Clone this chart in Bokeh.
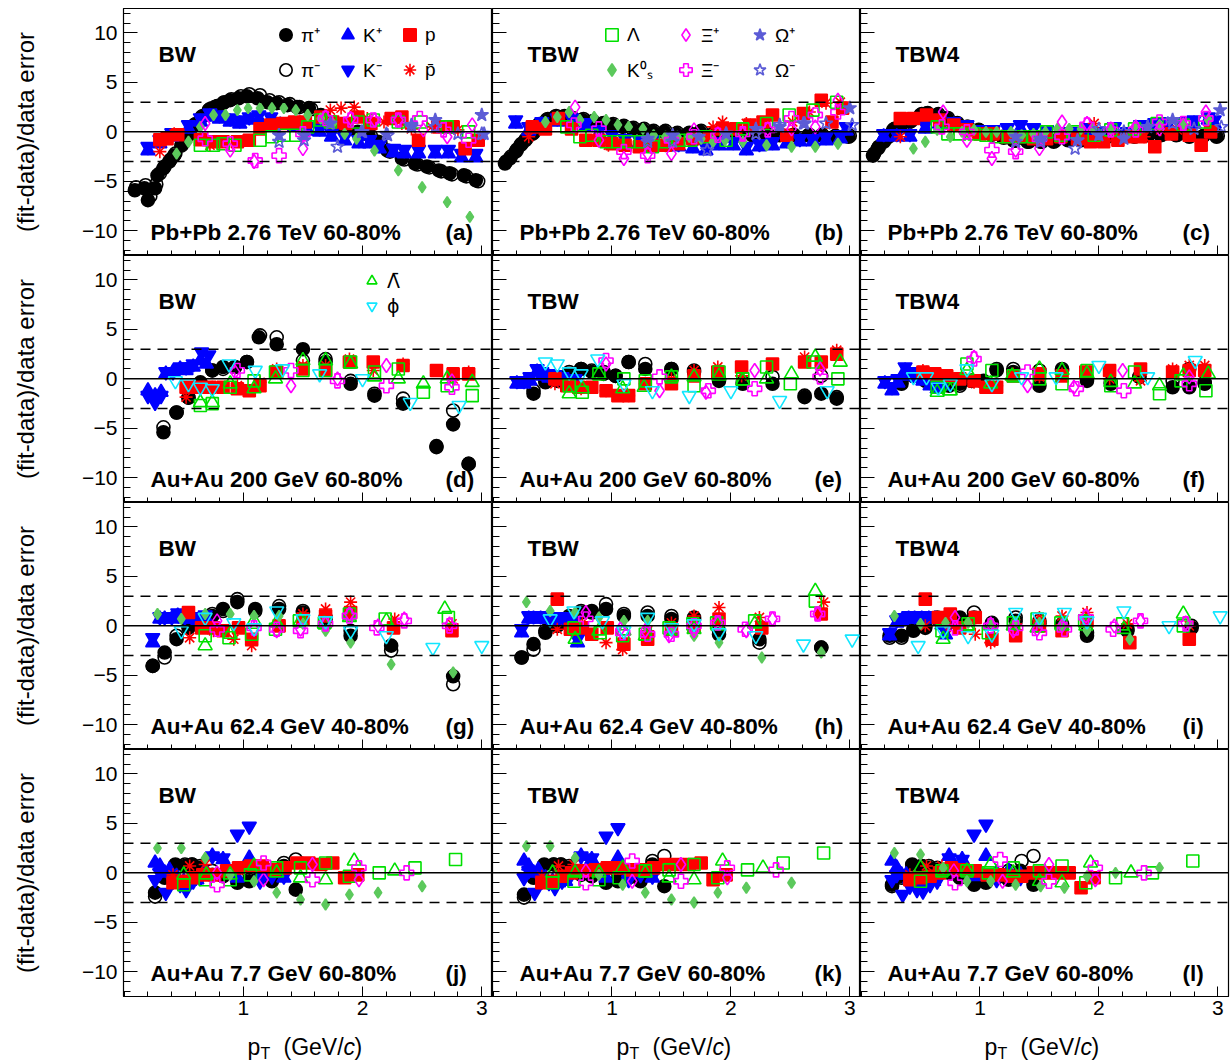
from bokeh.plotting import figure
from bokeh.models import (Range1d, FixedTicker, Span, Label, Legend, LegendItem,
                          ColumnDataSource, LinearAxis)
from bokeh.layouts import column, row
from bokeh.embed import file_html
from bokeh.resources import INLINE

# ---------------- text / ticks ----------------
MODELS = ["BW", "TBW", "TBW4"]
SYSTEMS = ["Pb+Pb 2.76 TeV 60-80%", "Au+Au 200 GeV 60-80%",
           "Au+Au 62.4 GeV 40-80%", "Au+Au 7.7 GeV 60-80%"]
TAGS = ["(a)", "(b)", "(c)", "(d)", "(e)", "(f)", "(g)", "(h)", "(i)", "(j)", "(k)", "(l)"]
Y_TITLE = "(fit-data)/data error"
X_TITLE_PARTS = ["p", "T", "(GeV/", "c", ")"]
X_TICKS = [1, 2, 3]
X_TICK_LABELS = ["1", "2", "3"]
X_MINOR = [0.0, 0.2, 0.4, 0.6, 0.8, 1.0, 1.2, 1.4, 1.6, 1.8, 2.0, 2.2, 2.4, 2.6, 2.8, 3.0]
Y_TICKS = [-10, -5, 0, 5, 10]
Y_TICK_LABELS = ["\u221210", "\u22125", "0", "5", "10"]
Y_MINOR = list(range(-12, 13))
DASH_LEVELS = [-3, 3]

# ---------------- data: (pT, (fit-data)/error) ----------------
# (a) Pb+Pb 2.76 TeV, BW
A_PIP = [(0.09,-5.9),(0.17,-5.7),(0.20,-6.9),(0.26,-5.7),(0.28,-4.4),(0.33,-3.7),(0.38,-3.0),(0.42,-2.4),(0.48,-1.4),(0.54,-0.3),(0.59,0.7),(0.65,1.5),(0.71,2.2),(0.76,2.5),(0.83,2.9),(0.89,3.2),(0.96,3.4),(1.03,3.6),(1.12,3.4),(1.20,3.0),(1.28,2.9),(1.37,2.7),(1.45,2.5),(1.55,2.4),(1.65,1.7),(1.73,1.0),(1.85,0.3),(1.96,0.0),(2.05,-0.3),(2.13,-1.0),(2.21,-1.9),(2.33,-2.7),(2.44,-3.2),(2.54,-3.5),(2.64,-3.9),(2.73,-4.2),(2.85,-4.4),(2.95,-4.9)]
A_PIM = [(0.10,-5.6),(0.18,-5.4),(0.22,-6.5),(0.27,-5.3),(0.30,-4.2),(0.34,-3.5),(0.39,-2.8),(0.43,-2.2),(0.49,-1.2),(0.55,-0.2),(0.60,0.8),(0.66,1.6),(0.72,2.3),(0.78,2.6),(0.84,3.0),(0.90,3.3),(0.98,3.6),(1.05,3.8),(1.14,3.7),(1.22,3.2),(1.30,3.0),(1.39,2.8),(1.47,2.5),(1.57,2.3),(1.67,1.6),(1.75,0.9),(1.87,0.2),(1.98,-0.1),(2.07,-0.4),(2.15,-1.1),(2.23,-2.0),(2.35,-2.8),(2.46,-3.3),(2.56,-3.6),(2.66,-4.0),(2.75,-4.3),(2.87,-4.5),(2.97,-5.0)]
A_KP = [(0.20,-1.9),(0.30,-1.2),(0.40,-0.5),(0.54,0.3),(0.64,1.0),(0.72,1.5),(0.80,1.3),(0.89,1.0),(0.97,0.8),(1.05,1.2),(1.13,1.3),(1.23,1.2),(1.31,0.7),(1.43,0.5),(1.54,0.1),(1.64,0.0),(1.74,-0.5),(1.85,-0.9),(1.97,-1.2),(2.06,-1.2),(2.14,-1.7),(2.26,-2.1),(2.35,-2.2),(2.47,-2.2),(2.61,-2.2),(2.72,-2.2),(2.83,-2.6),(2.95,-2.6)]
A_KM = [(0.20,-1.5),(0.30,-0.8),(0.40,-0.1),(0.54,0.7),(0.64,1.4),(0.72,1.9),(0.80,1.7),(0.89,1.4),(0.97,1.2),(1.05,1.5),(1.13,1.7),(1.23,1.5),(1.31,1.0),(1.43,0.9),(1.54,0.5),(1.64,0.4),(1.74,-0.1),(1.85,-0.5),(1.97,-0.8),(2.06,-0.8),(2.14,-1.3),(2.26,-1.7),(2.35,-1.8),(2.47,-1.8),(2.61,-1.8),(2.72,-1.8),(2.83,-2.2),(2.95,-2.2)]
A_P = [(0.30,-0.8),(0.36,-0.7),(0.45,-0.3),(0.64,-0.8),(0.75,-1.0),(0.83,-1.0),(0.95,-1.0),(1.05,-0.85),(1.14,0.3),(1.23,0.7),(1.33,0.85),(1.43,1.0),(1.52,1.0),(1.65,1.5),(1.75,1.0),(1.86,0.85),(1.96,1.5),(2.07,0.85),(2.24,1.35),(2.33,1.5),(2.47,-0.85),(2.64,0.5),(2.76,0.5),(2.86,-1.7),(2.97,-0.85)]
A_PBAR = [(0.30,-2.0),(0.42,-0.2),(0.72,-1.35),(1.73,2.2),(1.82,2.4),(1.93,2.5),(2.04,1.35),(2.18,1.0),(2.33,0.85),(2.41,0.3),(2.58,0.5),(2.80,0.2)]
A_LAM = [(0.64,-1.35),(0.75,-1.35),(0.83,-1.2),(0.93,-1.35),(1.14,-0.85),(1.24,-0.5),(1.34,-0.35),(1.44,-0.35),(1.54,0.5),(1.65,1.2),(1.73,1.0),(1.96,1.0),(2.09,1.2),(2.30,1.0),(2.49,1.0),(2.71,0.5),(2.89,0.0)]
A_K0S = [(0.44,-2.2),(0.54,-1.0),(0.64,0.5),(0.75,1.7),(0.85,1.7),(0.95,2.2),(1.04,2.4),(1.14,2.4),(1.24,2.4),(1.34,2.4),(1.44,2.2),(1.54,1.7),(1.65,1.35),(1.75,0.85),(1.85,-0.2),(1.95,-0.7),(2.10,-1.9),(2.30,-3.9),(2.50,-5.6),(2.71,-7.1),(2.90,-8.6)]
A_XIP = [(0.68,0.85),(0.89,-1.85),(1.09,-3.0),(1.50,-1.7),(1.69,1.5),(1.90,1.35),(2.10,1.2),(2.30,1.2),(2.51,0.2),(2.71,-0.5),(2.92,0.7)]
A_XIM = [(0.68,-0.7),(0.89,-1.2),(1.10,-2.9),(1.30,-2.4),(1.50,-0.2),(1.69,1.35),(1.90,1.2),(2.09,1.2),(2.30,1.2),(2.48,1.35),(2.68,0.2),(2.89,-0.85)]
A_OMP = [(1.30,-0.35),(1.51,-0.35),(1.73,0.85),(1.99,0.0),(2.20,-0.2),(2.41,0.7),(2.61,1.2),(3.00,1.7),(3.02,-0.2)]
A_OMM = [(1.30,-1.0),(1.51,-0.85),(1.79,-1.5),(2.00,0.0),(2.21,-0.35),(2.41,0.5),(2.61,0.5),(2.80,-0.2),(3.00,-0.2)]

# (b) Pb+Pb 2.76 TeV, TBW
B_PIP = [(0.10,-3.2),(0.14,-2.7),(0.19,-2.0),(0.23,-1.35),(0.27,-0.85),(0.33,-0.2),(0.38,0.7),(0.45,1.2),(0.52,1.5),(0.59,1.5),(0.66,1.35),(0.75,1.2),(0.83,1.0),(0.92,0.85),(1.00,0.7),(1.09,0.5),(1.17,0.3),(1.26,0.2),(1.34,0.0),(1.44,0.0),(1.54,-0.2),(1.64,-0.2),(1.74,0.0),(1.85,-0.2),(1.96,-0.2),(2.07,-0.35),(2.18,-0.35),(2.30,-0.3),(2.41,-0.35),(2.52,-0.35),(2.65,-0.35),(2.76,-0.35),(2.87,-0.5),(2.99,-0.5)]
B_PIM = [(0.11,-3.0),(0.15,-2.5),(0.20,-1.8),(0.24,-1.2),(0.28,-0.7),(0.34,-0.1),(0.39,0.8),(0.46,1.3),(0.53,1.6),(0.60,1.6),(0.67,1.4),(0.76,1.3),(0.84,1.1),(0.93,0.9),(1.01,0.8),(1.10,0.6),(1.18,0.4),(1.27,0.3),(1.35,0.1),(1.45,0.1),(1.55,-0.1),(1.65,-0.1),(1.75,0.1),(1.86,-0.1),(1.97,-0.1),(2.08,-0.3),(2.19,-0.3),(2.31,-0.2),(2.42,-0.3),(2.53,-0.3),(2.66,-0.3),(2.77,-0.3),(2.88,-0.4),(3.00,-0.4)]
B_KP = [(0.19,0.8),(0.30,0.1),(0.41,0.7),(0.54,1.0),(0.66,1.0),(0.78,0.5),(0.89,-0.2),(1.00,-0.7),(1.11,-1.0),(1.23,-1.2),(1.34,-1.2),(1.45,-1.5),(1.56,-1.5),(1.68,-1.7),(1.79,-1.9),(1.90,-1.4),(2.02,-1.4),(2.13,-1.9),(2.24,-1.5),(2.35,-1.4),(2.47,-1.2),(2.58,-1.0),(2.69,-1.0),(2.80,-0.9),(2.92,-0.7),(2.97,0.1)]
B_KM = [(0.19,1.2),(0.30,0.5),(0.41,1.0),(0.54,1.4),(0.66,1.4),(0.78,0.9),(0.89,0.2),(1.00,-0.3),(1.11,-0.7),(1.23,-0.8),(1.34,-0.8),(1.45,-1.2),(1.56,-1.2),(1.68,-1.3),(1.79,-1.5),(1.90,-1.0),(2.02,-1.0),(2.13,-1.5),(2.24,-1.2),(2.35,-1.0),(2.47,-0.8),(2.58,-0.7),(2.69,-0.7),(2.80,-0.5),(2.92,-0.3),(2.97,0.5)]
B_P = [(0.33,0.5),(0.44,0.3),(0.55,1.35),(0.66,0.3),(0.78,-0.85),(0.89,-0.85),(1.00,-1.2),(1.11,-1.35),(1.23,-1.5),(1.34,-1.35),(1.45,-1.35),(1.56,-1.2),(1.68,-0.7),(1.82,-0.5),(1.93,0.3),(2.04,0.3),(2.16,0.7),(2.27,1.0),(2.35,1.7),(2.47,-0.35),(2.61,1.85),(2.76,3.2),(2.85,1.0),(2.94,2.4)]
B_PBAR = [(0.30,-0.5),(0.97,-1.35),(1.85,0.5),(1.93,1.0),(2.13,0.85),(2.52,1.0),(2.66,2.0),(2.80,2.9),(2.92,3.0)]
B_LAM = [(0.62,0.5),(0.73,-0.5),(0.83,-0.35),(0.95,-1.0),(1.05,-1.0),(1.14,-1.0),(1.24,-1.0),(1.34,-1.5),(1.45,-1.0),(1.56,-0.85),(1.66,-0.85),(1.79,-0.5),(1.96,-0.85),(2.10,0.3),(2.30,0.85),(2.49,1.7),(2.69,2.2),(2.89,3.0)]
B_K0S = [(0.44,1.0),(0.54,1.5),(0.64,2.0),(0.73,1.2),(0.85,1.5),(0.95,1.2),(1.05,0.7),(1.14,0.5),(1.26,0.3),(1.35,-0.35),(1.45,-0.5),(1.55,-0.5),(1.65,-0.5),(1.75,-0.7),(1.85,-1.0),(1.95,-0.85),(2.10,-1.0),(2.30,-1.35),(2.51,-1.5),(2.71,-1.5),(2.90,-1.2)]
B_XIP = [(0.69,2.5),(0.89,-0.85),(1.10,-2.7),(1.30,-2.2),(1.50,-2.2),(1.69,0.2),(1.89,-0.2),(2.10,-0.2),(2.31,0.3),(2.51,0.3),(2.71,0.5),(2.90,3.2)]
B_XIM = [(0.68,0.7),(0.89,0.3),(1.10,-2.0),(1.30,-2.4),(1.50,-0.85),(1.69,-0.5),(1.89,-0.35),(2.10,-0.2),(2.31,0.2),(2.51,1.35),(2.71,1.7),(2.90,2.0)]
B_OMP = [(1.30,-0.7),(1.51,-0.35),(1.73,-0.5),(1.96,-0.2),(2.21,0.3),(2.41,0.5),(2.62,0.85),(3.00,2.4)]
B_OMM = [(1.30,-1.0),(1.51,-1.0),(1.80,-1.85),(1.96,-0.2),(2.21,-0.2),(2.41,0.7),(2.61,0.85),(2.80,0.85),(3.02,0.7)]

# (c) Pb+Pb 2.76 TeV, TBW4
C_PIP = [(0.10,-2.4),(0.14,-1.7),(0.19,-1.0),(0.23,-0.5),(0.27,0.2),(0.33,0.7),(0.41,1.0),(0.50,1.7),(0.55,1.85),(0.64,1.7),(0.72,1.35),(0.80,0.85),(0.89,0.5),(0.99,0.2),(1.09,-0.2),(1.19,-0.5),(1.28,-0.85),(1.40,-1.0),(1.51,-1.0),(1.62,-1.0),(1.74,-0.85),(1.85,-0.85),(1.96,-0.7),(2.07,-0.5),(2.18,-0.5),(2.30,-0.5),(2.41,-0.35),(2.52,-0.35),(2.65,-0.35),(2.76,-0.5),(2.87,-0.5),(2.99,-0.5)]
C_PIM = [(0.11,-2.2),(0.15,-1.5),(0.20,-0.8),(0.24,-0.3),(0.28,0.3),(0.34,0.8),(0.42,1.1),(0.51,1.8),(0.56,1.9),(0.65,1.8),(0.73,1.4),(0.81,0.9),(0.90,0.5),(1.00,0.1),(1.10,-0.3),(1.20,-0.6),(1.29,-0.9),(1.41,-1.0),(1.52,-1.0),(1.63,-0.9),(1.75,-0.8),(1.86,-0.8),(1.97,-0.6),(2.08,-0.4),(2.19,-0.4),(2.31,-0.4),(2.42,-0.3),(2.53,-0.3),(2.66,-0.3),(2.77,-0.4),(2.88,-0.4),(3.00,-0.4)]
C_KP = [(0.19,-0.5),(0.30,-0.5),(0.41,-0.5),(0.54,0.3),(0.66,0.8),(0.78,0.7),(0.89,0.3),(1.00,-0.2),(1.11,-0.2),(1.23,0.0),(1.34,0.3),(1.45,0.0),(1.56,-0.2),(1.68,-0.4),(1.79,-0.4),(1.90,0.0),(2.02,-0.4),(2.13,0.1),(2.24,-0.4),(2.35,0.3),(2.47,0.5),(2.58,0.7),(2.69,0.7),(2.80,0.8),(2.92,1.2),(2.97,0.8)]
C_KM = [(0.19,-0.2),(0.30,-0.2),(0.41,-0.2),(0.54,0.7),(0.66,1.2),(0.78,1.0),(0.89,0.7),(1.00,0.2),(1.11,0.2),(1.23,0.4),(1.34,0.7),(1.45,0.4),(1.56,0.2),(1.68,0.0),(1.79,0.0),(1.90,0.4),(2.02,0.0),(2.13,0.5),(2.24,0.0),(2.35,0.7),(2.47,0.9),(2.58,1.0),(2.69,1.0),(2.80,1.2),(2.92,1.5),(2.97,1.2)]
C_P = [(0.33,1.35),(0.44,1.35),(0.55,1.7),(0.66,1.2),(0.78,0.7),(0.89,0.2),(1.00,-0.2),(1.11,-0.2),(1.23,-0.5),(1.34,-0.5),(1.45,-0.7),(1.56,-0.7),(1.68,-0.5),(1.82,-0.7),(1.93,-1.0),(2.04,-1.0),(2.16,-0.85),(2.27,-0.5),(2.35,-0.5),(2.47,-1.5),(2.61,-0.2),(2.76,-0.35),(2.86,-1.35),(2.94,0.0)]
C_PBAR = [(0.33,-0.5),(0.97,-0.2),(1.85,-0.35),(1.96,0.85),(2.13,-0.5),(2.38,-0.5),(2.52,0.2),(2.66,0.2)]
C_LAM = [(0.64,0.5),(0.73,-0.2),(0.83,-0.2),(0.95,-0.2),(1.05,-0.35),(1.14,-0.5),(1.24,-0.5),(1.34,-0.5),(1.45,-0.5),(1.56,0.0),(1.68,-0.35),(1.79,0.0),(1.96,-0.35),(2.10,0.2),(2.30,0.3),(2.49,0.85),(2.71,0.7),(2.89,1.0)]
C_K0S = [(0.44,-1.7),(0.54,-1.0),(0.64,0.2),(0.75,-0.5),(0.85,0.0),(0.95,0.2),(1.05,0.0),(1.14,0.0),(1.26,0.0),(1.35,-0.35),(1.45,-0.2),(1.55,0.0),(1.65,0.3),(1.75,0.3),(1.85,0.3),(1.95,0.3),(2.10,0.2),(2.30,0.5),(2.51,0.7),(2.71,0.7),(2.92,1.2)]
C_XIP = [(0.69,2.0),(0.89,-0.85),(1.10,-2.7),(1.30,-1.85),(1.50,-1.7),(1.69,1.0),(1.90,0.85),(2.10,0.3),(2.31,0.5),(2.51,0.3),(2.71,0.7),(2.90,2.0)]
C_XIM = [(0.68,0.5),(0.89,0.0),(1.10,-1.85),(1.30,-2.0),(1.50,-0.7),(1.69,-0.5),(1.90,0.7),(2.10,0.2),(2.31,0.2),(2.51,1.0),(2.71,0.85),(2.90,1.35)]
C_OMP = [(1.30,-0.5),(1.51,-0.7),(1.82,-0.85),(2.00,-0.35),(2.21,-0.7),(2.41,0.5),(2.62,1.2),(3.02,2.2)]
C_OMM = [(1.30,-1.0),(1.51,-1.0),(1.80,-1.7),(2.00,0.3),(2.21,0.0),(2.41,0.5),(2.62,0.85),(2.80,0.3),(3.03,0.5)]

# (d) Au+Au 200 GeV, BW
D_PIP = [(0.33,-5.4),(0.44,-3.4),(0.54,-1.9),(0.64,-0.35),(0.74,0.85),(0.83,1.2),(0.93,1.2),(1.03,1.7),(1.13,4.2),(1.28,3.5),(1.50,3.0),(1.69,1.7),(1.90,-0.5),(2.10,-1.7),(2.34,-2.5),(2.62,-6.9),(2.76,-4.6),(2.89,-8.6)]
D_PIM = [(0.33,-4.9),(0.44,-3.4),(0.54,-1.9),(0.64,-0.5),(0.74,0.85),(0.83,1.0),(0.93,1.2),(1.03,1.7),(1.14,4.4),(1.28,4.2),(1.50,1.85),(1.69,2.0),(1.90,-0.2),(2.10,-1.5),(2.34,-2.0),(2.62,-6.8),(2.76,-3.2),(2.89,-8.6)]
D_KP = [(0.20,-1.2),(0.26,-1.7),(0.31,-1.35),(0.35,0.5),(0.41,0.7),(0.47,1.0),(0.52,0.85),(0.58,1.2),(0.64,1.85),(0.69,1.5)]
D_KM = [(0.20,-1.7),(0.26,-2.4),(0.31,-1.7),(0.35,0.7),(0.41,0.7),(0.47,1.2),(0.52,1.2),(0.58,1.5),(0.65,2.7),(0.71,2.4)]
D_P = [(0.52,-0.85),(0.62,-0.85),(0.72,-0.85),(0.83,-0.85),(0.95,-1.0),(1.05,-1.2),(1.14,-0.7),(1.28,0.7),(1.50,1.0),(1.69,0.85),(1.89,1.7),(2.09,1.7),(2.34,1.35),(2.62,0.85),(2.76,0.5),(2.89,0.5)]
D_PBAR = [(0.52,-1.85),(0.74,-0.85),(0.95,-0.7),(1.14,-0.35),(1.28,1.0),(1.50,1.35),(1.69,1.35),(1.89,2.0),(2.09,0.85),(2.34,1.5),(2.62,0.85),(2.76,0.0),(2.89,0.7)]
D_LAM = [(0.64,-2.7),(0.74,-2.5),(0.89,-0.85),(1.09,-0.2),(1.27,0.7),(1.50,0.85),(1.69,0.85),(1.90,1.7),(2.10,0.7),(2.30,1.0),(2.51,-1.35),(2.71,-0.7),(2.92,-1.7)]
D_LAMB = [(0.64,-2.4),(0.74,-2.4),(0.89,-0.5),(1.09,-1.0),(1.27,0.0),(1.50,1.85),(1.69,1.85),(1.90,1.5),(2.10,0.2),(2.30,0.0),(2.51,-0.5),(2.71,0.0),(2.92,-0.35)]
D_XIP = [(0.93,0.7),(1.40,-0.7),(1.79,0.0),(2.20,1.35),(2.75,-0.2)]
D_XIM = [(0.95,0.85),(1.40,0.85),(1.79,-0.2),(2.20,-0.7),(2.75,-0.85)]
D_PHI = [(0.43,-0.2),(0.54,-0.5),(0.64,-0.85),(0.74,-1.0),(0.88,1.5),(1.10,0.85),(1.33,1.0),(1.64,0.5),(2.00,0.0),(2.40,-2.4),(2.81,-2.7)]

# (e) Au+Au 200 GeV, TBW
E_PIP = [(0.34,-1.5),(0.44,-0.35),(0.54,-0.2),(0.64,0.5),(0.74,1.0),(0.83,0.7),(0.93,0.5),(1.03,0.3),(1.14,1.7),(1.28,1.0),(1.50,1.0),(1.69,0.7),(1.90,-0.2),(2.10,-0.5),(2.35,-0.5),(2.62,-1.85),(2.76,-1.5),(2.89,-2.0)]
E_PIM = [(0.34,-1.2),(0.44,-0.2),(0.54,0.0),(0.64,0.7),(0.74,1.0),(0.83,0.85),(0.93,0.7),(1.03,0.3),(1.14,1.7),(1.28,1.5),(1.50,1.0),(1.69,0.85),(1.90,0.0),(2.10,-0.35),(2.35,0.2),(2.62,-1.7),(2.76,0.3),(2.89,-1.85)]
E_KP = [(0.20,-0.5),(0.26,-0.5),(0.31,-0.2),(0.37,0.7),(0.41,0.3),(0.47,0.1),(0.52,0.0),(0.58,-0.2),(0.64,-0.4),(0.69,-0.4)]
E_KM = [(0.20,-0.2),(0.26,-0.2),(0.31,0.2),(0.37,1.0),(0.41,0.7),(0.47,0.5),(0.52,0.4),(0.58,0.2),(0.64,0.0),(0.69,0.0)]
E_P = [(0.52,0.0),(0.62,-0.7),(0.72,-0.85),(0.83,-0.85),(0.95,-1.2),(1.05,-1.7),(1.14,-1.7),(1.28,-0.5),(1.50,-0.5),(1.69,0.3),(1.89,0.7),(2.09,1.2),(2.35,1.5),(2.62,1.7),(2.76,1.7),(2.89,2.5)]
E_PBAR = [(0.52,-0.5),(0.74,-1.0),(0.95,-1.2),(1.14,-1.7),(1.28,-0.5),(1.50,0.0),(1.69,0.85),(1.89,1.2),(2.09,0.3),(2.35,1.35),(2.62,2.2),(2.76,1.35),(2.89,2.9)]
E_LAM = [(0.64,-0.7),(0.75,-1.35),(0.89,0.5),(1.10,0.0),(1.28,-0.2),(1.50,0.2),(1.69,-0.7),(1.90,0.7),(2.10,0.0),(2.30,1.2),(2.50,-0.5),(2.69,1.7),(2.90,0.0)]
E_LAMB = [(0.64,-1.5),(0.75,-1.0),(0.89,0.5),(1.09,-1.0),(1.27,-0.85),(1.50,0.2),(1.69,0.2),(1.90,0.3),(2.10,-0.2),(2.30,0.0),(2.51,0.5),(2.71,2.2),(2.92,1.7)]
E_XIP = [(0.95,1.5),(1.40,-1.2),(1.79,-1.35),(2.20,0.85),(2.75,1.0)]
E_XIM = [(0.95,1.85),(1.40,0.2),(1.81,-1.2),(2.20,-1.0),(2.75,0.2)]
E_PHI = [(0.44,1.7),(0.54,1.5),(0.64,0.7),(0.74,0.5),(0.88,2.0),(1.10,-0.5),(1.34,-1.2),(1.65,-1.7),(2.00,-1.2),(2.41,-2.2),(2.81,-1.2)]

# (f) Au+Au 200 GeV, TBW4
F_PIP = [(0.34,-0.5),(0.44,0.3),(0.54,-0.2),(0.64,0.0),(0.74,-0.7),(0.83,-0.5),(0.93,-0.2),(1.03,-0.2),(1.14,0.85),(1.28,0.7),(1.50,-0.7),(1.69,0.85),(1.90,-0.2),(2.10,-0.5),(2.34,0.2),(2.62,-0.85),(2.76,-0.85),(2.89,-0.5)]
F_PIM = [(0.34,-0.2),(0.44,0.3),(0.54,0.0),(0.64,-0.2),(0.74,-0.5),(0.83,-0.7),(0.93,-0.2),(1.03,-0.35),(1.14,1.0),(1.28,1.0),(1.50,0.85),(1.69,1.0),(1.90,0.0),(2.10,-0.35),(2.34,0.2),(2.62,-0.2),(2.76,1.0),(2.89,-0.35)]
F_KP = [(0.20,-0.5),(0.26,-1.2),(0.31,-0.4),(0.37,0.8),(0.41,0.3),(0.47,0.1),(0.52,-0.2),(0.58,-0.7),(0.64,-1.0),(0.69,-0.7)]
F_KM = [(0.20,-0.2),(0.26,-0.8),(0.31,0.0),(0.37,1.2),(0.41,0.7),(0.47,0.5),(0.52,0.2),(0.58,-0.3),(0.64,-0.7),(0.69,-0.3)]
F_P = [(0.52,0.7),(0.62,0.5),(0.72,0.3),(0.83,0.0),(0.95,-0.2),(1.05,-0.85),(1.14,-0.85),(1.28,0.3),(1.50,0.5),(1.69,0.3),(1.89,0.7),(2.09,0.85),(2.35,1.0),(2.62,0.7),(2.76,0.85),(2.89,0.85)]
F_PBAR = [(0.52,0.85),(0.74,0.2),(0.95,-0.35),(1.14,-0.7),(1.28,0.5),(1.50,0.2),(1.69,0.5),(1.89,0.85),(2.09,0.0),(2.35,-0.2),(2.62,1.0),(2.76,1.35),(2.89,1.35)]
F_LAM = [(0.64,-0.85),(0.75,-1.0),(0.89,1.5),(1.10,0.85),(1.28,0.3),(1.50,0.0),(1.69,-0.5),(1.90,0.85),(2.10,-0.7),(2.30,0.7),(2.51,-1.5),(2.69,-0.2),(2.90,-1.2)]
F_LAMB = [(0.64,-1.35),(0.75,-1.2),(0.89,0.85),(1.09,-0.5),(1.27,0.3),(1.50,1.0),(1.69,0.85),(1.90,0.5),(2.10,-0.35),(2.30,-0.5),(2.51,-0.7),(2.71,0.3),(2.92,0.5)]
F_XIP = [(0.95,2.2),(1.40,-0.7),(1.79,-0.85),(2.20,0.85),(2.76,0.2)]
F_XIM = [(0.95,2.0),(1.40,0.7),(1.81,-1.0),(2.21,-1.2),(2.76,-0.5)]
F_PHI = [(0.44,0.2),(0.55,0.2),(0.65,-0.85),(0.75,-0.5),(0.89,1.0),(1.10,-0.5),(1.35,0.2),(1.64,0.2),(2.00,1.35),(2.41,0.2),(2.81,1.85)]

# (g) Au+Au 62.4 GeV, BW
G_PIP = [(0.24,-4.05),(0.34,-2.7),(0.44,-1.35),(0.54,-0.2),(0.64,0.5),(0.74,1.0),(0.83,1.7),(0.95,2.4),(1.10,1.7),(1.30,1.7),(1.50,1.35),(1.69,0.7),(1.90,-1.0),(2.24,-2.0),(2.76,-5.1)]
G_PIM = [(0.24,-4.05),(0.34,-3.2),(0.44,-1.0),(0.54,0.0),(0.64,0.5),(0.74,1.2),(0.83,1.5),(0.95,2.7),(1.10,1.5),(1.30,2.0),(1.50,1.5),(1.69,0.85),(1.90,-0.5),(2.24,-2.5),(2.76,-5.9)]
G_KP = [(0.24,-1.7),(0.30,0.7),(0.34,0.7),(0.40,0.7),(0.45,1.0),(0.51,0.7),(0.57,0.7),(0.62,0.5),(0.68,0.85)]
G_KM = [(0.24,-1.2),(0.30,0.9),(0.34,0.9),(0.40,0.9),(0.45,1.3),(0.51,0.9),(0.57,0.9),(0.62,0.8),(0.68,1.1)]
G_P = [(0.54,1.35),(0.65,-0.2),(0.75,-0.2),(0.83,-0.5),(0.96,-0.2),(1.07,-1.35),(1.30,0.0),(1.50,0.7),(1.69,1.0),(1.90,1.35),(2.26,-0.2),(2.75,-0.5)]
G_PBAR = [(0.55,-1.2),(0.75,-0.5),(0.92,-1.35),(1.07,-2.0),(1.30,0.2),(1.50,1.2),(1.69,1.7),(1.90,2.4),(2.27,0.7),(2.75,0.2)]
G_LAM = [(0.68,-1.0),(0.88,-1.2),(1.07,-0.85),(1.27,-0.35),(1.47,0.5),(1.68,0.3),(1.89,1.2),(2.19,0.7),(2.72,0.85)]
G_LAMB = [(0.68,-2.0),(0.89,-0.85),(1.09,0.5),(1.28,0.3),(1.48,0.5),(1.68,0.2),(1.89,0.85),(2.20,0.5),(2.69,1.7)]
G_K0S = [(0.28,1.2),(0.48,0.7),(0.68,1.2),(0.89,1.2),(1.09,1.0),(1.30,1.0),(1.50,0.2),(1.69,-0.5),(1.90,-1.7),(2.24,-3.9),(2.76,-4.7)]
G_XIP = [(0.78,0.5),(1.09,-0.35),(1.28,-0.5),(1.48,-0.35),(1.69,0.2),(1.89,1.2),(2.13,0.0),(2.35,0.7),(2.73,0.2)]
G_XIM = [(0.78,-0.35),(1.09,-0.2),(1.28,-0.35),(1.48,-0.5),(1.69,0.2),(1.89,1.0),(2.12,-0.2),(2.35,0.5),(2.73,0.0)]
G_PHI = [(0.48,-0.5),(0.68,0.85),(0.92,0.3),(1.09,-0.2),(1.28,1.5),(1.50,0.7),(1.69,0.5),(1.90,-0.5),(2.20,-1.0),(2.59,-2.2),(3.00,-2.0)]

# (h) Au+Au 62.4 GeV, TBW
H_PIP = [(0.24,-3.2),(0.34,-1.85),(0.44,-0.7),(0.54,0.0),(0.64,0.85),(0.74,1.35),(0.83,1.5),(0.95,1.7),(1.10,1.0),(1.30,1.0),(1.50,0.7),(1.69,0.7),(1.90,-0.85),(2.24,-1.35),(2.76,-2.2)]
H_PIM = [(0.24,-3.2),(0.34,-2.4),(0.44,-0.5),(0.54,0.2),(0.64,1.0),(0.74,1.5),(0.83,1.35),(0.95,2.2),(1.10,1.2),(1.30,1.35),(1.50,1.0),(1.69,0.85),(1.90,-0.5),(2.24,-1.7),(2.76,-2.2)]
H_KP = [(0.24,-0.7),(0.30,0.7),(0.34,0.7),(0.40,0.7),(0.45,0.7),(0.51,0.5),(0.57,0.5),(0.62,0.5),(0.68,0.1),(0.71,-1.7)]
H_KM = [(0.24,-0.3),(0.30,1.0),(0.34,1.0),(0.40,1.0),(0.45,1.0),(0.51,0.9),(0.57,0.9),(0.62,0.9),(0.68,0.5),(0.71,-1.3)]
H_P = [(0.54,2.7),(0.65,-0.35),(0.75,-0.2),(0.83,-0.85),(0.96,-0.2),(1.10,-1.85),(1.30,-1.35),(1.50,-0.35),(1.69,0.0),(1.90,0.7),(2.26,-0.2),(2.76,1.2)]
H_PBAR = [(0.54,-0.35),(0.75,0.3),(0.95,-1.7),(1.09,-2.4),(1.30,-0.5),(1.50,0.3),(1.69,1.0),(1.90,1.85),(2.24,0.85),(2.78,2.4)]
H_LAM = [(0.68,-0.2),(0.90,-0.7),(1.09,-1.0),(1.28,-0.85),(1.48,-0.2),(1.68,0.2),(1.88,0.3),(2.20,0.5),(2.71,2.5)]
H_LAMB = [(0.69,-1.35),(0.89,-0.5),(1.10,-0.5),(1.28,-1.0),(1.50,-0.5),(1.69,-0.35),(1.89,0.0),(2.20,0.2),(2.71,3.5)]
H_K0S = [(0.28,2.4),(0.48,1.5),(0.69,1.35),(0.89,0.85),(1.10,0.5),(1.30,0.5),(1.50,-0.5),(1.69,-1.0),(1.90,-1.7),(2.26,-3.2),(2.76,-2.7)]
H_XIP = [(0.78,1.35),(1.07,-0.35),(1.28,-0.5),(1.48,-1.0),(1.69,-0.5),(1.89,0.3),(2.13,-0.5),(2.35,0.7),(2.73,1.2)]
H_XIM = [(0.78,0.7),(1.09,-0.7),(1.30,-0.85),(1.50,-0.85),(1.69,0.0),(1.89,0.3),(2.12,-0.35),(2.35,0.7),(2.73,1.2)]
H_PHI = [(0.48,0.7),(0.68,1.5),(0.92,0.5),(1.10,-0.5),(1.30,0.85),(1.50,-0.2),(1.69,0.2),(1.90,-0.7),(2.21,-1.0),(2.61,-1.85),(3.02,-1.35)]

# (i) Au+Au 62.4 GeV, TBW4
I_PIP = [(0.24,-1.0),(0.34,-1.0),(0.44,-0.5),(0.54,-0.2),(0.64,0.7),(0.74,0.7),(0.83,0.85),(0.95,0.85),(1.10,0.2),(1.30,0.5),(1.50,0.2),(1.69,0.0),(1.90,-1.0),(2.24,-0.5),(2.78,-0.2)]
I_PIM = [(0.24,-1.2),(0.34,-1.2),(0.44,-0.35),(0.54,0.0),(0.64,0.85),(0.74,1.0),(0.83,0.7),(0.95,1.35),(1.10,0.3),(1.30,0.85),(1.50,0.5),(1.69,0.2),(1.90,-0.7),(2.24,-0.35),(2.78,0.0)]
I_KP = [(0.24,-1.0),(0.30,0.3),(0.34,0.5),(0.40,0.7),(0.45,0.7),(0.51,0.7),(0.57,0.7),(0.62,0.7),(0.68,0.1),(0.71,-0.9)]
I_KM = [(0.24,-0.7),(0.30,0.6),(0.34,0.8),(0.40,1.0),(0.45,1.0),(0.51,1.0),(0.57,1.0),(0.62,1.0),(0.68,0.4),(0.71,-0.5)]
I_P = [(0.54,2.7),(0.65,0.85),(0.75,1.2),(0.83,-0.2),(0.96,0.85),(1.10,-1.35),(1.30,-1.0),(1.50,0.0),(1.69,-0.5),(1.90,0.5),(2.26,-1.7),(2.76,-1.35)]
I_PBAR = [(0.54,0.0),(0.75,0.0),(0.96,-0.85),(1.09,-1.7),(1.30,0.2),(1.50,0.85),(1.69,1.0),(1.90,1.35),(2.24,0.2),(2.76,0.0)]
I_LAM = [(0.68,-0.5),(0.90,0.2),(1.07,-0.7),(1.28,0.3),(1.48,0.7),(1.68,0.3),(1.88,0.5),(2.20,0.2),(2.71,0.0)]
I_LAMB = [(0.69,-1.35),(0.89,0.0),(1.09,0.0),(1.28,0.0),(1.48,-0.2),(1.69,0.0),(1.89,0.0),(2.21,-0.35),(2.71,1.2)]
I_K0S = [(0.28,1.0),(0.50,0.2),(0.71,0.3),(0.90,0.3),(1.10,0.2),(1.30,0.3),(1.50,0.3),(1.69,0.0),(1.90,-0.5),(2.26,-1.35),(2.76,0.2)]
I_XIP = [(0.79,0.85),(1.09,0.2),(1.28,-0.5),(1.48,-0.35),(1.69,0.0),(1.89,1.0),(2.13,0.0),(2.35,0.5),(2.73,0.3)]
I_XIM = [(0.79,-0.2),(1.09,0.0),(1.30,-0.2),(1.50,-0.7),(1.71,-0.35),(1.89,0.85),(2.12,-0.35),(2.35,0.5),(2.73,0.2)]
I_PHI = [(0.48,-2.0),(0.69,-0.5),(0.90,-1.0),(1.10,-0.85),(1.30,1.35),(1.50,0.85),(1.71,1.35),(1.90,0.5),(2.21,1.5),(2.59,0.0),(3.02,1.0)]

# (j) Au+Au 7.7 GeV, BW
J_PIP = [(0.26,-2.0),(0.34,-0.5),(0.43,0.85),(0.51,0.7),(0.57,0.85),(0.64,0.5),(0.74,-0.2),(0.83,-0.35),(0.95,-1.0),(1.05,-0.85),(1.14,-0.5),(1.24,-0.85),(1.34,0.7),(1.44,-1.7)]
J_PIM = [(0.26,-2.4),(0.34,-0.35),(0.43,0.5),(0.51,0.85),(0.57,0.85),(0.64,0.7),(0.74,0.2),(0.83,-0.2),(0.95,-0.5),(1.05,-0.7),(1.14,-0.35),(1.24,-0.35),(1.34,1.0),(1.44,1.35)]
J_KP = [(0.26,1.0),(0.30,0.7),(0.34,0.0),(0.38,0.3),(0.44,-0.35),(0.50,-0.85),(0.55,-0.85),(0.61,-0.7),(0.68,0.3),(0.74,1.7),(0.83,1.35),(0.95,-0.5),(1.05,1.5),(1.14,-0.35),(1.24,0.0),(1.34,-0.5)]
J_KM = [(0.26,-0.7),(0.30,0.0),(0.35,-2.0),(0.41,-0.85),(0.47,-1.2),(0.52,-1.7),(0.58,-0.85),(0.64,-0.5),(0.74,1.7),(0.83,1.5),(0.95,3.9),(1.05,4.7),(1.14,-0.85),(1.24,-0.35),(1.34,-0.35)]
J_P = [(0.41,-1.0),(0.50,-0.85),(0.58,-0.5),(0.66,-0.2),(0.76,-0.2),(0.86,0.2),(0.96,0.5),(1.06,0.7),(1.16,0.7),(1.26,0.3),(1.35,0.5),(1.45,1.0),(1.55,1.0),(1.65,0.85),(1.75,1.0),(1.85,-0.5),(1.96,-0.2)]
J_PBAR = [(0.41,-0.2),(0.55,0.7),(0.68,0.85)]
J_LAM = [(0.50,-1.2),(0.68,-0.7),(0.89,-0.7),(1.06,-0.2),(1.28,0.5),(1.48,0.5),(1.69,1.0),(1.89,-0.35),(2.14,0.0),(2.44,0.5),(2.78,1.35)]
J_LAMB = [(0.50,-0.2),(0.69,-0.2),(0.89,-0.2),(1.09,0.7),(1.28,0.0),(1.48,-0.5),(1.69,-0.7),(1.93,1.2),(2.27,0.2)]
J_K0S = [(0.28,2.5),(0.48,2.5),(0.68,1.5),(0.89,-0.2),(1.09,-0.85),(1.28,-2.0),(1.48,-2.7),(1.69,-3.2),(1.89,-2.2),(2.13,-2.0),(2.50,-1.35)]
J_XIP = [(0.78,0.0),(1.17,-0.7),(1.58,0.85),(1.97,-0.7)]
J_XIM = [(0.78,-1.2),(1.17,1.0),(1.58,-0.7),(1.97,0.5),(2.37,0.0)]

# (k) Au+Au 7.7 GeV, TBW
K_PIP = [(0.26,-2.2),(0.34,-0.5),(0.43,0.85),(0.51,0.85),(0.57,0.85),(0.64,0.5),(0.74,-0.2),(0.83,-0.35),(0.95,-1.0),(1.05,-0.85),(1.14,-0.5),(1.24,-0.85),(1.34,0.85),(1.44,-1.35)]
K_PIM = [(0.26,-2.5),(0.34,-0.35),(0.43,0.5),(0.51,0.85),(0.57,0.85),(0.64,0.7),(0.74,0.2),(0.83,-0.2),(0.95,-0.5),(1.05,-0.7),(1.14,-0.35),(1.24,0.0),(1.34,1.2),(1.44,1.7)]
K_KP = [(0.26,1.2),(0.30,0.7),(0.34,0.0),(0.38,0.3),(0.44,-0.5),(0.50,-0.85),(0.55,-1.0),(0.61,-0.85),(0.68,0.3),(0.74,1.7),(0.83,1.35),(0.95,-0.5),(1.05,1.5),(1.14,-0.2),(1.24,0.0),(1.34,-0.5)]
K_KM = [(0.26,-0.5),(0.30,0.2),(0.35,-2.0),(0.41,-0.85),(0.47,-1.0),(0.52,-1.5),(0.58,-0.85),(0.64,-0.5),(0.74,1.7),(0.83,1.5),(0.95,3.7),(1.05,4.55),(1.14,-0.7),(1.24,-0.2),(1.34,-0.35)]
K_P = [(0.41,-1.0),(0.50,-0.85),(0.58,-0.35),(0.66,0.0),(0.76,0.2),(0.86,0.3),(0.96,0.5),(1.06,0.5),(1.16,0.3),(1.26,0.3),(1.35,0.5),(1.45,0.85),(1.55,0.85),(1.65,0.85),(1.75,1.0),(1.85,-0.7),(1.96,-0.2)]
K_PBAR = [(0.41,-0.35),(0.55,0.7),(0.68,0.85)]
K_LAM = [(0.50,-1.0),(0.68,-0.85),(0.89,-0.7),(1.06,-0.5),(1.28,0.2),(1.48,0.3),(1.69,0.85),(1.89,-0.5),(2.14,0.3),(2.44,1.0),(2.78,2.0)]
K_LAMB = [(0.50,0.0),(0.69,0.0),(0.89,0.0),(1.09,0.5),(1.28,0.0),(1.48,-0.5),(1.69,-0.7),(1.93,1.2),(2.27,0.5)]
K_K0S = [(0.28,2.7),(0.48,2.7),(0.69,1.5),(0.89,-0.2),(1.09,-1.2),(1.28,-2.0),(1.50,-2.7),(1.69,-3.0),(1.89,-2.0),(2.13,-1.5),(2.51,-1.0)]
K_XIP = [(0.78,0.2),(1.17,-0.85),(1.58,0.85),(1.97,-0.5)]
K_XIM = [(0.78,-1.0),(1.17,1.2),(1.58,-0.85),(1.97,0.5),(2.38,0.3)]

# (l) Au+Au 7.7 GeV, TBW4
L_PIP = [(0.26,-1.2),(0.34,-0.35),(0.43,0.85),(0.51,0.7),(0.57,0.5),(0.64,0.3),(0.74,0.0),(0.83,-0.5),(0.95,-1.2),(1.05,-1.0),(1.14,-0.5),(1.24,-0.7),(1.34,0.2),(1.45,-1.2)]
L_PIM = [(0.26,-1.35),(0.34,-0.5),(0.43,0.5),(0.51,0.7),(0.57,0.7),(0.64,0.5),(0.74,0.2),(0.83,-0.2),(0.95,-0.5),(1.05,-0.5),(1.14,-0.2),(1.24,0.2),(1.35,1.2),(1.45,1.7)]
L_KP = [(0.26,1.2),(0.30,0.5),(0.34,-0.2),(0.38,-0.2),(0.44,-0.7),(0.50,-0.85),(0.55,-1.0),(0.61,-0.85),(0.68,0.2),(0.74,1.7),(0.85,1.35),(0.95,-0.35),(1.05,1.7),(1.14,0.0),(1.24,0.2),(1.34,-0.2)]
L_KM = [(0.26,-0.7),(0.30,-0.2),(0.35,-2.2),(0.41,-1.35),(0.47,-1.7),(0.52,-1.85),(0.58,-1.2),(0.64,-0.85),(0.74,1.5),(0.85,1.35),(0.95,3.9),(1.05,4.9),(1.14,-0.7),(1.24,-0.2),(1.34,-0.5)]
L_P = [(0.41,-0.7),(0.50,-0.5),(0.58,-0.35),(0.66,0.0),(0.76,0.5),(0.86,0.3),(0.96,0.2),(1.06,-0.2),(1.16,-0.2),(1.26,-0.35),(1.35,-0.35),(1.45,0.0),(1.55,0.0),(1.65,0.0),(1.75,0.0),(1.85,-1.5),(1.96,-0.5)]
L_PBAR = [(0.41,-0.2),(0.55,0.7),(0.68,0.7)]
L_LAM = [(0.50,-0.85),(0.68,0.2),(0.89,0.2),(1.07,0.0),(1.28,0.5),(1.50,0.2),(1.69,0.7),(1.89,-1.0),(2.14,-0.5),(2.45,0.0),(2.79,1.2)]
L_LAMB = [(0.50,0.5),(0.69,0.2),(0.89,0.2),(1.09,0.85),(1.28,0.0),(1.50,-0.85),(1.69,-1.0),(1.93,1.0),(2.27,0.0)]
L_K0S = [(0.28,2.0),(0.50,1.85),(0.69,0.5),(0.89,-0.85),(1.09,-0.85),(1.30,-1.2),(1.51,-1.35),(1.71,-1.5),(1.90,-0.35),(2.14,0.0),(2.51,0.5)]
L_XIP = [(0.78,0.2),(1.19,-0.85),(1.58,0.85),(1.97,-0.7)]
L_XIM = [(0.79,-1.0),(1.17,1.35),(1.58,-0.85),(1.97,0.5),(2.38,0.0)]

PANEL_SERIES = [
    dict(pip=A_PIP, pim=A_PIM, kp=A_KP, km=A_KM, p=A_P, pbar=A_PBAR, lam=A_LAM, k0s=A_K0S, xip=A_XIP, xim=A_XIM, omp=A_OMP, omm=A_OMM),
    dict(pip=B_PIP, pim=B_PIM, kp=B_KP, km=B_KM, p=B_P, pbar=B_PBAR, lam=B_LAM, k0s=B_K0S, xip=B_XIP, xim=B_XIM, omp=B_OMP, omm=B_OMM),
    dict(pip=C_PIP, pim=C_PIM, kp=C_KP, km=C_KM, p=C_P, pbar=C_PBAR, lam=C_LAM, k0s=C_K0S, xip=C_XIP, xim=C_XIM, omp=C_OMP, omm=C_OMM),
    dict(pip=D_PIP, pim=D_PIM, kp=D_KP, km=D_KM, p=D_P, pbar=D_PBAR, lam=D_LAM, lamb=D_LAMB, xip=D_XIP, xim=D_XIM, phi=D_PHI),
    dict(pip=E_PIP, pim=E_PIM, kp=E_KP, km=E_KM, p=E_P, pbar=E_PBAR, lam=E_LAM, lamb=E_LAMB, xip=E_XIP, xim=E_XIM, phi=E_PHI),
    dict(pip=F_PIP, pim=F_PIM, kp=F_KP, km=F_KM, p=F_P, pbar=F_PBAR, lam=F_LAM, lamb=F_LAMB, xip=F_XIP, xim=F_XIM, phi=F_PHI),
    dict(pip=G_PIP, pim=G_PIM, kp=G_KP, km=G_KM, p=G_P, pbar=G_PBAR, lam=G_LAM, lamb=G_LAMB, k0s=G_K0S, xip=G_XIP, xim=G_XIM, phi=G_PHI),
    dict(pip=H_PIP, pim=H_PIM, kp=H_KP, km=H_KM, p=H_P, pbar=H_PBAR, lam=H_LAM, lamb=H_LAMB, k0s=H_K0S, xip=H_XIP, xim=H_XIM, phi=H_PHI),
    dict(pip=I_PIP, pim=I_PIM, kp=I_KP, km=I_KM, p=I_P, pbar=I_PBAR, lam=I_LAM, lamb=I_LAMB, k0s=I_K0S, xip=I_XIP, xim=I_XIM, phi=I_PHI),
    dict(pip=J_PIP, pim=J_PIM, kp=J_KP, km=J_KM, p=J_P, pbar=J_PBAR, lam=J_LAM, lamb=J_LAMB, k0s=J_K0S, xip=J_XIP, xim=J_XIM),
    dict(pip=K_PIP, pim=K_PIM, kp=K_KP, km=K_KM, p=K_P, pbar=K_PBAR, lam=K_LAM, lamb=K_LAMB, k0s=K_K0S, xip=K_XIP, xim=K_XIM),
    dict(pip=L_PIP, pim=L_PIM, kp=L_KP, km=L_KM, p=L_P, pbar=L_PBAR, lam=L_LAM, lamb=L_LAMB, k0s=L_K0S, xip=L_XIP, xim=L_XIM),
]

# ---------------- styles ----------------
GREEN = "#00e000"
K0S_GREEN = "#5cc95c"
MAGENTA = "#ff00ff"
OMEGA = "#5c5cd6"
CYAN = "#12e6ff"
STYLE = {
    "pip":  dict(marker="circle", size=13, color="black", filled=True, label="\u03c0\u207a"),
    "pim":  dict(marker="circle", size=13, color="black", filled=False, label="\u03c0\u207b"),
    "kp":   dict(marker="triangle", size=14, color="#0000ff", filled=True, label="K\u207a"),
    "km":   dict(marker="inverted_triangle", size=14, color="#0000ff", filled=True, label="K\u207b"),
    "p":    dict(marker="square", size=12, color="#ff0000", filled=True, label="p"),
    "pbar": dict(marker="asterisk", size=13, color="#ff0000", filled=False, label="p\u0304"),
    "lam":  dict(marker="square", size=12, color=GREEN, filled=False, label="\u039b"),
    "lamb": dict(marker="triangle", size=14, color=GREEN, filled=False, label="\u039b\u0304"),
    "k0s":  dict(marker="diamond", size=11, color=K0S_GREEN, filled=True, label="K\u2070\u209b"),
    "xip":  dict(marker="diamond", size=14, color=MAGENTA, filled=False, label="\u039e\u207a"),
    "xim":  dict(marker="plus", size=14, color=MAGENTA, filled=False, label="\u039e\u207b"),
    "omp":  dict(marker="star", size=14, color=OMEGA, filled=True, label="\u03a9\u207a"),
    "omm":  dict(marker="star", size=14, color=OMEGA, filled=False, label="\u03a9\u207b"),
    "phi":  dict(marker="inverted_triangle", size=14, color=CYAN, filled=False, label="\u03d5"),
}
ORDER = ["pip", "pim", "kp", "km", "p", "pbar", "lam", "lamb", "k0s", "xip", "xim", "omp", "omm", "phi"]
LEGENDS = {
    0: dict(keys=["pip", "pim", "kp", "km", "p", "pbar"], x=147, y=168, lw=31, gh=35, font="Liberation Sans"),
    1: dict(keys=["lam", "k0s", "xip", "xim", "omp", "omm"], x=104, y=168, lw=43, gh=35, font="Liberation Sans"),
    3: dict(keys=["lamb", "phi"], x=233, y=184, lw=30, gh=25, font="DejaVu Sans"),
}
FONT = "Liberation Sans"


def tick_axis(ticks, length):
    """Axis drawing only inward ticks of one length (no labels at all)."""
    return LinearAxis(ticker=FixedTicker(ticks=[], minor_ticks=ticks),
                      major_tick_in=0, major_tick_out=0, minor_tick_in=length,
                      minor_tick_out=0, major_label_standoff=0,
                      axis_line_color="black", minor_tick_line_color="black",
                      minor_tick_line_width=1)


def style_label_axis(ax, ticks, labels, minor, major_len, minor_len):
    ax.ticker = FixedTicker(ticks=ticks, minor_ticks=minor)
    ax.major_label_overrides = dict(zip(ticks, labels))
    ax.major_tick_out = 0
    ax.minor_tick_out = 0
    ax.major_tick_in = major_len
    ax.minor_tick_in = minor_len
    ax.axis_line_color = "black"
    ax.major_tick_line_color = "black"
    ax.minor_tick_line_color = "black"
    ax.major_label_text_font = FONT
    ax.major_label_text_font_size = "21px"
    ax.major_label_text_color = "black"


def make_panel(idx):
    ri, ci = divmod(idx, 3)
    p = figure(frame_width=369 if ci == 0 else 368, frame_height=247,
               x_range=Range1d(-0.005, 3.09), y_range=Range1d(-12.5, 12.47),
               output_backend="svg", toolbar_location=None, title=None,
               x_axis_location="below" if ri == 3 else None,
               y_axis_location="left" if ci == 0 else None,
               min_border_left=123 if ci == 0 else 0, min_border_right=3 if ci == 2 else 0,
               min_border_top=8 if ri == 0 else 0, min_border_bottom=30 if ri == 3 else 0)
    p.xgrid.visible = False
    p.ygrid.visible = False
    p.outline_line_color = "black"
    p.outline_line_width = 1.2
    p.background_fill_color = "white"
    p.border_fill_color = "white"

    if ri == 3:
        xa = p.xaxis[0]
        style_label_axis(xa, X_TICKS, X_TICK_LABELS, X_MINOR, 10, 5)
        xa.major_label_standoff = 4
    else:
        p.add_layout(tick_axis(X_MINOR, 5), "below")
        p.add_layout(tick_axis(X_TICKS, 10), "below")
    if ci == 0:
        ya = p.yaxis[0]
        style_label_axis(ya, Y_TICKS, Y_TICK_LABELS, Y_MINOR, 14, 7)
        ya.major_label_standoff = 6
        ya.axis_label = Y_TITLE
        ya.axis_label_text_font = FONT
        ya.axis_label_text_font_size = "24px"
        ya.axis_label_text_font_style = "normal"
        ya.axis_label_text_color = "black"
        ya.axis_label_standoff = 40
    else:
        p.add_layout(tick_axis(Y_MINOR, 7), "left")
        p.add_layout(tick_axis(Y_TICKS, 14), "left")

    series = PANEL_SERIES[idx]
    rends = {}
    for key in ORDER:
        if key not in series:
            continue
        st = STYLE[key]
        pts = series[key]
        src = ColumnDataSource(data=dict(x=[a for a, b in pts], y=[b for a, b in pts]))
        rends[key] = p.scatter("x", "y", source=src, marker=st["marker"], size=st["size"],
                               line_color=st["color"], line_width=1.6,
                               fill_color=st["color"] if st["filled"] else None)

    p.add_layout(Span(location=0, dimension="width", line_color="black", line_width=1.5))
    for lv in DASH_LEVELS:
        p.add_layout(Span(location=lv, dimension="width", line_color="black",
                          line_width=1.5, line_dash="10 7"))

    for txt, x, y in [(MODELS[ci], 35, 201), (SYSTEMS[ri], 27, 23), (TAGS[idx], 322, 23)]:
        p.add_layout(Label(x=x, y=y, x_units="screen", y_units="screen", text=txt,
                           text_font=FONT, text_font_size="22.5px", text_font_style="bold",
                           text_baseline="middle", text_color="black"))

    if idx in LEGENDS:
        lg = LEGENDS[idx]
        items = [LegendItem(label=STYLE[k]["label"], renderers=[rends[k]]) for k in lg["keys"]]
        leg = Legend(items=items, location=(lg["x"], lg["y"]), orientation="vertical",
                     nrows=2, glyph_width=31, glyph_height=lg["gh"], spacing=0,
                     label_standoff=0, label_width=lg["lw"], padding=0, margin=0,
                     background_fill_alpha=0, border_line_alpha=0,
                     label_text_font=lg["font"], label_text_font_size="19px",
                     label_text_baseline="middle", label_text_color="black")
        p.add_layout(leg)
    return p


def make_title_cell(ci):
    """Strip under each bottom panel carrying the x-axis title p_T (GeV/c)."""
    t = figure(frame_width=369 if ci == 0 else 368, frame_height=36,
               x_range=Range1d(0, 1), y_range=Range1d(0, 1),
               output_backend="svg", toolbar_location=None, title=None,
               x_axis_location=None, y_axis_location=None,
               min_border_left=123 if ci == 0 else 0, min_border_right=3 if ci == 2 else 0,
               min_border_top=0, min_border_bottom=0)
    t.xgrid.visible = False
    t.ygrid.visible = False
    t.outline_line_color = None
    t.background_fill_color = "white"
    t.border_fill_color = "white"
    placement = [(124, 16, "23px", "normal"), (137, 9, "16px", "normal"),
                 (160, 16, "23px", "normal"), (220, 16, "23px", "italic"),
                 (231, 16, "23px", "normal")]
    for txt, (x, y, fs, style) in zip(X_TITLE_PARTS, placement):
        t.add_layout(Label(x=x, y=y, x_units="screen", y_units="screen", text=txt,
                           text_font=FONT, text_font_size=fs, text_font_style=style,
                           text_baseline="alphabetic", text_color="black"))
    return t


panels = [make_panel(i) for i in range(12)]
rows = [row(*panels[r * 3:(r + 1) * 3], spacing=0) for r in range(4)]
rows.append(row(*[make_title_cell(c) for c in range(3)], spacing=0))
layout = column(*rows, spacing=0)

with open("out.html", "w") as f:
    f.write(file_html(layout, INLINE))
